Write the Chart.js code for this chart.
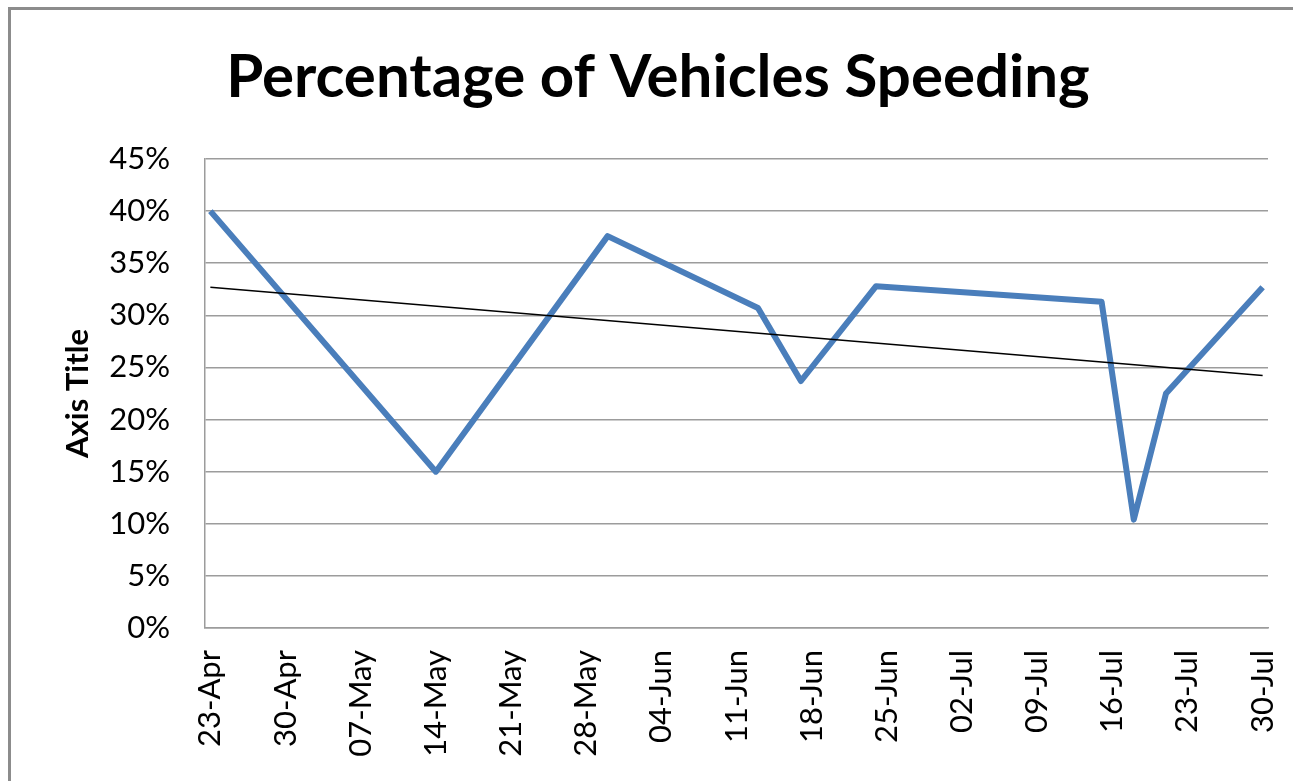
<!DOCTYPE html>
<html>
<head>
<meta charset="utf-8">
<title>Percentage of Vehicles Speeding</title>
<script src="https://cdn.jsdelivr.net/npm/chart.js@4.4.1/dist/chart.umd.min.js"></script>
<style>
  html, body { margin: 0; padding: 0; background: #fff; overflow: hidden; }
  #wrap { position: relative; width: 1293px; height: 781px; }
  #frame {
    position: absolute; left: 8px; top: 7px; width: 1400px; height: 900px;
    border: 3px solid #8c8c8c; box-sizing: border-box; pointer-events: none;
  }
  canvas { position: absolute; left: 0; top: 0; }
</style>
</head>
<body>
<div id="wrap">
  <canvas id="speedChart" width="1293" height="781"></canvas>
  <div id="frame"></div>
</div>
<script>
// ---------- DATA ----------
const startDate = "2010-04-23";
const obsDates = ["2010-04-23", "2010-05-14", "2010-05-30", "2010-06-13", "2010-06-17",
                  "2010-06-24", "2010-07-15", "2010-07-18", "2010-07-21", "2010-07-30"];
const speedingPct = [40.0, 15.0, 37.6, 30.7, 23.7, 32.8, 31.3, 10.4, 22.5, 32.7];
const tickLabels = ["23-Apr", "30-Apr", "07-May", "14-May", "21-May", "28-May", "04-Jun",
                    "11-Jun", "18-Jun", "25-Jun", "02-Jul", "09-Jul", "16-Jul", "23-Jul", "30-Jul"];
const yTicks = [0, 5, 10, 15, 20, 25, 30, 35, 40, 45];

// days since first date (Excel date axis works in days)
function dayOffset(iso) {
  const p = iso.split("-").map(Number);
  const s = startDate.split("-").map(Number);
  return (Date.UTC(p[0], p[1] - 1, p[2]) - Date.UTC(s[0], s[1] - 1, s[2])) / 86400000;
}
const days = obsDates.map(dayOffset);
const tickDays = tickLabels.map(function (_, i) { return i * 7; });

// linear trendline (least squares), same as Excel's
function trend(xs, ys) {
  const n = xs.length;
  const mx = xs.reduce((a, b) => a + b, 0) / n;
  const my = ys.reduce((a, b) => a + b, 0) / n;
  let sxy = 0, sxx = 0;
  for (let i = 0; i < n; i++) {
    sxy += (xs[i] - mx) * (ys[i] - my);
    sxx += (xs[i] - mx) * (xs[i] - mx);
  }
  const slope = sxy / sxx;
  return function (x) { return my + slope * (x - mx); };
}
const fit = trend(days, speedingPct);
const firstDay = days[0], lastDay = days[days.length - 1];

const FONT = "Lato, 'Open Sans', sans-serif";
const GRID = "#9c9c9c";

// ---------- CHART ----------
const canvas = document.getElementById("speedChart");

new Chart(canvas, {
  type: "line",
  data: {
    datasets: [
      {
        label: "Speeding",
        data: days.map((d, i) => ({ x: d, y: speedingPct[i] })),
        borderColor: "#4a7ebb",
        borderWidth: 6,
        borderJoinStyle: "round",
        pointRadius: 0,
        tension: 0,
        order: 2
      },
      {
        label: "Trend",
        data: [{ x: firstDay, y: fit(firstDay) }, { x: lastDay, y: fit(lastDay) }],
        borderColor: "#000",
        borderWidth: 1.5,
        pointRadius: 0,
        order: 1
      }
    ]
  },
  options: {
    responsive: false,
    animation: false,
    layout: { padding: { left: 48, right: 25, top: 0, bottom: 0 } },
    plugins: {
      legend: { display: false },
      tooltip: { enabled: false },
      title: {
        display: true,
        text: "Percentage of Vehicles Speeding",
        color: "#000",
        font: { family: FONT, size: 60, weight: "bold", lineHeight: 1.2 },
        padding: { top: 42, bottom: 45 }
      }
    },
    scales: {
      x: {
        type: "linear",
        min: -0.5,
        max: lastDay + 0.5,
        grid: { display: false, drawTicks: false },
        border: { display: true, color: GRID, width: 1.5 },
        afterBuildTicks: function (scale) {
          scale.ticks = tickDays.map(v => ({ value: v }));
        },
        afterFit: function (scale) {
          scale.height = 781 - 628;
          scale.paddingLeft = 0;
          scale.paddingRight = 0;
        },
        ticks: {
          autoSkip: false,
          minRotation: 90,
          maxRotation: 90,
          padding: 22,
          color: "#000",
          font: { family: FONT, size: 31 },
          callback: function (value, index) { return tickLabels[index]; }
        }
      },
      y: {
        min: 0,
        max: 45,
        afterBuildTicks: function (scale) {
          scale.ticks = yTicks.map(v => ({ value: v }));
        },
        afterFit: function (scale) {
          scale.width = 205 - 48;
          scale.paddingTop = 0;
          scale.paddingBottom = 0;
        },
        grid: { color: GRID, lineWidth: 1.5, drawTicks: false },
        border: { display: true, color: GRID, width: 1.5 },
        ticks: {
          padding: 35,
          color: "#000",
          font: { family: FONT, size: 31 },
          callback: function (value) { return value + "%"; }
        },
        title: {
          display: true,
          text: "Axis Title",
          color: "#000",
          font: { family: FONT, size: 31, weight: "bold", lineHeight: 1.2 },
          padding: { top: 11, bottom: 0 }
        }
      }
    }
  }
});
</script>
</body>
</html>
